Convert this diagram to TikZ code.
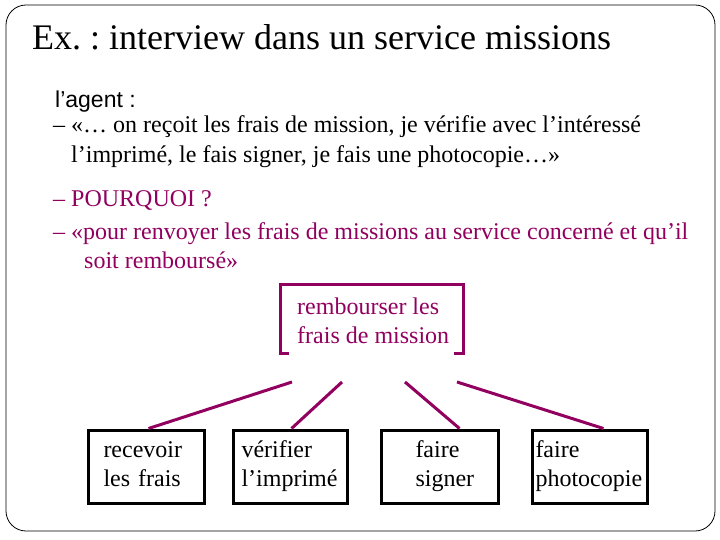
\documentclass[tikz,border=0pt]{standalone}
\usepackage{fontspec}
\setmainfont{Liberation Serif}
\newfontfamily\agentfont{Liberation Sans}
\definecolor{plum}{RGB}{145,0,95}
\frenchspacing
\begin{document}
\begin{tikzpicture}[x=1pt, y=-1pt,
  txt/.style={anchor=base west, inner sep=0pt, font=\fontsize{24}{29}\selectfont},
  task/.style={draw, line width=3pt, anchor=north west, inner xsep=0pt,
    minimum width=#1, text width=#1, minimum height=73pt, align=left,
    font=\fontsize{24}{29}\selectfont,
    execute at begin node=\strut, execute at end node=\strut},
  link/.style={plum, line width=3pt}]
  \useasboundingbox (0,0) rectangle (720,540);

  % Frame
  \draw[line width=0.8pt, rounded corners=20pt] (6,5) rectangle (715,531);

  % Title
  \node[txt, font=\fontsize{36}{43}\selectfont] (title) at (32,50) {Ex. : interview dans un service missions};

  % Interview
  \node[txt, font=\agentfont\fontsize{23}{28}\selectfont] (agent) at (55,108) {l’agent :};
  \node[txt] (q1) at (53,133) {– «… on reçoit les frais de mission, je vérifie avec l’intéressé};
  \node[txt] (q1b) at (71,163) {l’imprimé, le fais signer, je fais une photocopie…»};
  \node[txt, text=plum] (why) at (53,207) {– POURQUOI ?};
  \node[txt, text=plum] (q2) at (53,240) {– «pour renvoyer les frais de missions au service concerné et qu’il};
  \node[txt, text=plum] (q2b) at (84,268) {soit remboursé»};

  % Goal with bracket
  \node[txt, text=plum, align=left] (goal) at (297,343) {rembourser les\\frais de mission};
  \draw[link] (289,353) -- (280,353) -- (280,284) -- (463,284) -- (463,353) -- (454,353);

  % Tasks
  \node[task=116pt] (recv) at (86.5,428.5) {\hspace*{15.5pt}recevoir\\\hspace*{15.5pt}les frais};
  \node[task=114pt] (check) at (231.5,428.5) {\hspace*{8.5pt}vérifier\\\hspace*{8.5pt}l’imprimé};
  \node[task=117pt] (sign) at (379.5,428.5) {\hspace*{34.5pt}faire\\\hspace*{34.5pt}signer};
  \node[task=115pt] (copy) at (530.5,428.5) {\hspace*{3.5pt}faire\\\hspace*{3.5pt}photocopie};

  % Links
  \coordinate (r1) at (292,382);
  \coordinate (r2) at (342,382);
  \coordinate (r3) at (405,382);
  \coordinate (r4) at (457,382);
  \draw[link] (r1) -- ([xshift=2.5pt]recv.north);
  \draw[link] (r2) -- ([xshift=1.5pt]check.north);
  \draw[link] (r3) -- ([xshift=20pt]sign.north);
  \draw[link] (r4) -- ([xshift=14pt]copy.north);
\end{tikzpicture}
\end{document}
